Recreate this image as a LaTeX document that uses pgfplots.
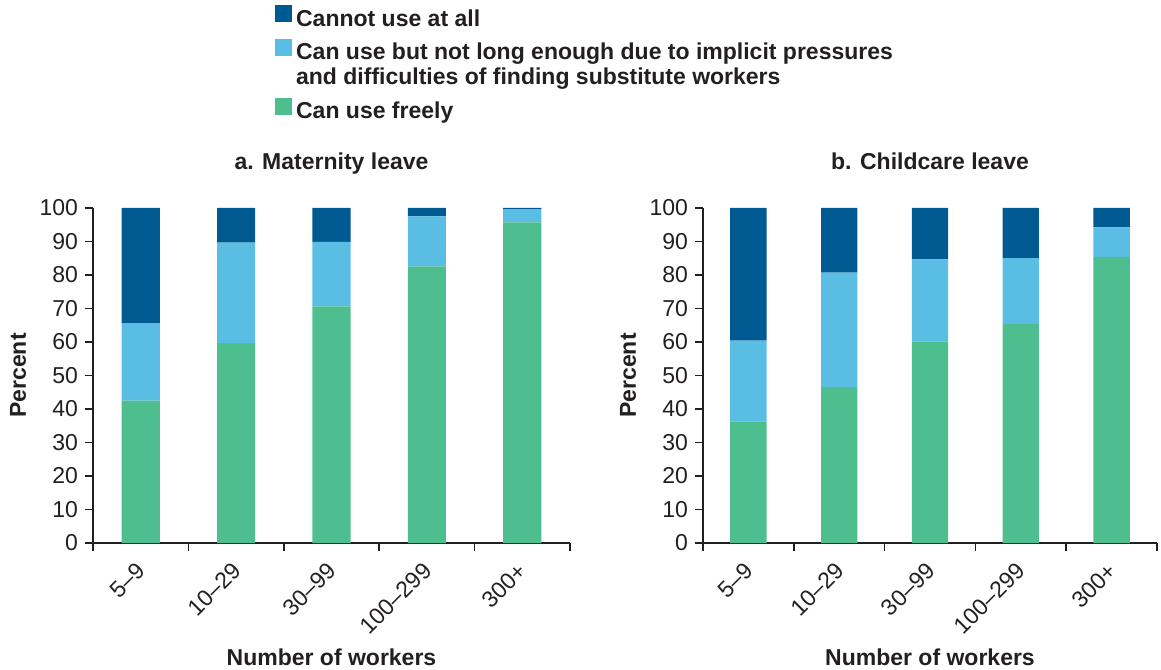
\documentclass[border=0pt]{standalone}
\usepackage{pgfplots}
\pgfplotsset{compat=1.18}
\usepackage{pgfplotstable}
\usepackage{fontspec}
\setmainfont{Liberation Sans}

\definecolor{cdark}{HTML}{005A92}
\definecolor{clight}{HTML}{5ABDE3}
\definecolor{cgreen}{HTML}{4FBE8E}
\definecolor{ink}{HTML}{231F20}

% share of firms (%) by size class
\pgfplotstableread{
x free short none
0 42.5 23.1 34.4
1 59.7 30.0 10.3
2 70.6 19.3 10.1
3 82.6 14.9 2.5
4 95.7 4.0 0.3
}\maternity
\pgfplotstableread{
x free short none
0 36.3 24.1 39.6
1 46.6 34.1 19.3
2 60.2 24.5 15.3
3 65.4 19.6 15.0
4 85.4 8.8 5.8
}\childcare

\newcommand\lblfont{\bfseries\fontsize{11.5}{12.5}\selectfont}

\pgfplotsset{
  square legend/.style={
    legend image code/.code={\fill[##1] (0pt,-1.5pt) rectangle (8.5pt,7pt);}},
  twoline legend/.style={
    legend image code/.code={\fill[##1] (0pt,4.6pt) rectangle (8.5pt,13.1pt);}},
  leave/.style={
    scale only axis, height=167.5pt,
    ybar stacked, bar width=0.4,
    ymin=0, ymax=100, xmin=-0.5, xmax=4.5,
    axis lines=left,
    axis line style={ink, line width=1pt, -},
    every axis plot/.append style={draw=none},
    ytick={0,10,...,100},
    xtick={-0.5,0.5,...,4.5}, xticklabels={},
    extra x ticks={0,1,2,3,4},
    extra x tick labels={5--9,10--29,30--99,100--299,300+},
    extra x tick style={major tick length=0pt},
    tick align=outside, major tick length=4pt,
    tick style={ink, line width=0.8pt},
    /pgf/number format/assume math mode=true,
    ticklabel style={font=\fontsize{11.5}{13}\selectfont, text=ink},
    xticklabel style={xshift=2.8pt, yshift=-9.5pt, rotate=45, anchor=east},
    title style={font=\lblfont, text=ink, at={(0.5,1)}, anchor=base, yshift=13pt},
    xlabel style={font=\lblfont, text=ink, at={(0.5,0)}, anchor=base, yshift=-61pt},
    ylabel style={font=\lblfont, text=ink, at={(axis description cs:0,0.5)}, anchor=center, yshift=37.5pt},
    xlabel={Number of workers}, ylabel={Percent},
  }
}

\begin{document}
\begin{tikzpicture}
\path[use as bounding box] (-46.5pt,-63pt) rectangle (534pt,271.5pt);

\begin{axis}[leave, name=A, width=238.5pt,
  title={a. Maternity leave},
  reverse legend,
  square legend,
  legend style={at={(0.381,1.606)}, anchor=north west, draw=none, fill=none,
    font=\lblfont, text=ink, cells={anchor=west, align=left}, row sep=3pt,
    inner sep=0pt, /tikz/every even column/.style={column sep=0pt}},
]
\addplot[fill=cgreen] table[x=x, y=free] {\maternity};
\addlegendentry{Can use freely}
\addplot[fill=clight, twoline legend] table[x=x, y=short] {\maternity};
\addlegendentry{Can use but not long enough due to implicit pressures\\and difficulties of finding substitute workers}
\addplot[fill=cdark] table[x=x, y=none] {\maternity};
\addlegendentry{Cannot use at all}
\end{axis}

\begin{axis}[leave, at={(305pt,0pt)}, width=227pt,
  title={b. Childcare leave},
]
\addplot[fill=cgreen] table[x=x, y=free] {\childcare};
\addplot[fill=clight] table[x=x, y=short] {\childcare};
\addplot[fill=cdark] table[x=x, y=none] {\childcare};
\end{axis}
\end{tikzpicture}
\end{document}
